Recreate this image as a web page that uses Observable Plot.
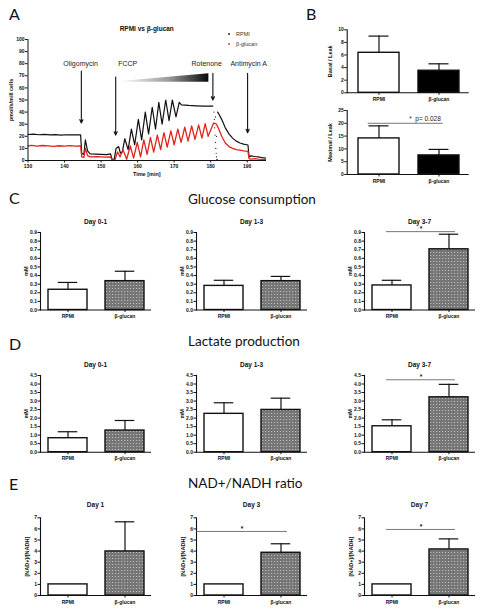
<!DOCTYPE html>
<html><head><meta charset="utf-8">
<script src="https://cdn.jsdelivr.net/npm/d3@7"></script>
<script src="https://cdn.jsdelivr.net/npm/@observablehq/plot@0.6"></script>
<style>
body{margin:0;background:#fff;}
#root{position:relative;width:489px;height:615px;overflow:hidden;background:#fff;}
#root svg{position:absolute;}
</style></head><body>
<div id="root">
<svg width="0" height="0" style="left:0;top:0">
 <defs>
  <pattern id="dotPat" width="3" height="3" patternUnits="userSpaceOnUse">
   <rect width="3" height="3" fill="#767676"/>
   <rect x="1" y="1" width="1.2" height="1" fill="#b8b8b8"/>
  </pattern>
  <linearGradient id="wedgeGrad" x1="0" x2="1" y1="0" y2="0">
   <stop offset="0" stop-color="#ffffff"/>
   <stop offset="0.55" stop-color="#9a9a9a"/>
   <stop offset="1" stop-color="#0a0a0a"/>
  </linearGradient>
 </defs>
</svg>
</div>
<script>
// ---------------- data ----------------
const groups = ["RPMI", "β-glucan"];

// Panel A: Seahorse trace (time [min], pmol/s/mill cells)
const rpmiT = [130,131.5,133,134.5,136,137.5,139,140.5,142,143.5,144.4,144.7,145.3,145.7,146.3,147,148.5,150,151.5,152.6,153,153.6,154.1,154.8,155.3,155.8,156.5,157.4,158.3,159.2,160.2,161.1,162.1,163,164,164.9,165.8,166.7,167.7,168.6,169.5,170.5,171.4,172,174,176,178,180.6,181.2,181.9,182.3,183,184,185,186,187,188,189,190.2,190.5,191,192,193,194,195];
const rpmiV = [21.5,21.8,21.3,21.6,21.2,21.4,21.0,21.3,21.1,21.2,21.2,6,5,17,8,5.5,5.2,5,4.8,5.5,1,1,10,11.5,6,7,18,9,26,13,34,17,40,22,44,26,48,30,50,33,50,36,48,46,45.5,45.2,45,45,NaN,40,38,34,27,22,18.5,16,14.5,13.5,12.8,3,3.8,3.3,3,2.5,2];
const rpmiScatterT = [180.9,181.0,181.1,181.2,181.3,181.4,181.5,181.6,181.7,181.8,181.3,181.6];
const rpmiScatterV = [40,34,27,21,15,10,6,3,1,0.5,36,20];
const bgT = [130,131,132.5,134,135.5,137,138.5,140,141.5,143,144.4,144.7,145.3,145.7,146.3,147,149,151,152.6,153,153.8,154.5,155.2,156,157,158,158.9,159.9,160.8,161.7,162.6,163.5,164.4,165.4,166.3,167.2,168.1,169.1,170,171,171.9,172.9,173.8,174.8,175.7,176.7,177.6,178.5,179.3,180.8,181.6,182.2,183,184,185,186,187,188,189,190.2,190.5,191,192,193,194,195];
const bgV = [12,12.5,11.8,12.4,12.1,11.6,12.2,11.9,12.3,11.8,12,3,2.5,10,4,3,3.2,2.8,3,0.5,0.5,7,3,9,1,12,2,15,3,17,5,19,7,21,9,23,11,24.5,13,26,15,27.5,16,28.5,17.5,29.5,18.5,30.5,20,31,30,26,20,14.5,11.5,10,9,8.5,8,7.5,1.5,1.2,1.5,1.2,1,0.8];
const eventNames = ["Oligomycin", "FCCP", "Rotenone", "Antimycin A"];
const eventT = [144.6, 154, 180.6, 190.1];
const eventTop = [74, 69, 72, 72];
const eventTip = [31, 21, 50, 23];
const eventLabelT = [144.4, 157.3, 178.9, 190.4];
const eventLabelY = [80, 80, 80, 80];
const wedgeT = [155.3, 179.5];
const wedgeLo = [64.7, 64.7];
const wedgeHi = [65.2, 71.6];
const traceXTicks = [130,140,150,160,170,180,190];
const traceYTicks = [0,10,20,30,40,50,60,70,80,90,100];

// Panel B
const basalLeak = [6.35, 3.5];
const basalLeakErr = [9.0, 4.6];
const basalTicks = [0,2,4,6,8,10];
const maxLeak = [14.1, 7.45];
const maxLeakErr = [19.0, 9.8];
const maxLeakSig = 20.0;
const maxTicks = [0,5,10,15,20,25];

// Panel C: glucose consumption (mM)
const glucoseDays = ["Day 0-1", "Day 1-3", "Day 3-7"];
const glucoseRPMI = [0.235, 0.28, 0.285];
const glucoseRPMIErr = [0.32, 0.345, 0.345];
const glucoseBG = [0.335, 0.335, 0.705];
const glucoseBGErr = [0.45, 0.39, 0.88];
const glucoseSig = [null, null, 0.91];
const glucoseTicks = [0,0.1,0.2,0.3,0.4,0.5,0.6,0.7,0.8,0.9];

// Panel D: lactate production (mM)
const lactateDays = ["Day 0-1", "Day 1-3", "Day 3-7"];
const lactateRPMI = [0.82, 2.25, 1.52];
const lactateRPMIErr = [1.2, 2.9, 1.9];
const lactateBG = [1.27, 2.48, 3.22];
const lactateBGErr = [1.86, 3.17, 3.98];
const lactateSig = [null, null, 4.25];
const lactateTicks = [0,0.5,1,1.5,2,2.5,3,3.5,4,4.5];

// Panel E: NAD+/NADH ratio
const nadDays = ["Day 1", "Day 3", "Day 7"];
const nadRPMI = [1, 1, 1];
const nadRPMIErr = [null, null, null];
const nadBG = [3.97, 3.85, 4.15];
const nadBGErr = [6.64, 4.66, 5.1];
const nadSig = [null, 5.77, 5.95];
const nadTicks = [0,1,2,3,4,5,6,7];

// ---------------- drawing ----------------
const root = document.getElementById("root");
const baseStyle = {fontFamily: "'Liberation Sans', Arial, sans-serif", fontSize: "5px", fontWeight: "bold", background: "transparent", color: "#111", overflow: "visible"};

function place(svg, left, top) {
  svg.style.left = left + "px";
  svg.style.top = top + "px";
  root.appendChild(svg);
}

// Panel A
{
  const rpmi = rpmiT.map((t, i) => ({t, v: rpmiV[i]}));
  const scatter = rpmiScatterT.map((t, i) => ({t, v: rpmiScatterV[i]}));
  const bg = bgT.map((t, i) => ({t, v: bgV[i]}));
  const events = eventNames.map((name, i) => ({name, t: eventT[i], top: eventTop[i], tip: eventTip[i], lt: eventLabelT[i], ly: eventLabelY[i]}));
  const wedge = wedgeT.map((t, i) => ({t, lo: wedgeLo[i], hi: wedgeHi[i]}));
  const svg = Plot.plot({
    width: 272, height: 183,
    marginLeft: 27.5, marginRight: 7, marginTop: 39, marginBottom: 23,
    style: baseStyle,
    x: {domain: [130, 195]},
    y: {domain: [0, 100]},
    marks: [
      Plot.areaY(wedge, {x: "t", y1: "lo", y2: "hi", fill: "url(#wedgeGrad)"}),
      Plot.line(rpmi, {x: "t", y: "v", stroke: "#111", strokeWidth: 1.2}),
      Plot.dot(scatter, {x: "t", y: "v", r: 0.6, fill: "#111", stroke: null}),
      Plot.line(bg, {x: "t", y: "v", stroke: "#e2231a", strokeWidth: 1.3}),
      Plot.arrow(events, {x1: "t", x2: "t", y1: "top", y2: "tip", stroke: "#111", strokeWidth: 1.1, headLength: 5, headAngle: 50}),
      Plot.text(events, {x: "lt", y: "ly", text: "name", fontSize: 7, fontWeight: "normal", fill: "#222", fontFamily: "'Liberation Sans', Arial, sans-serif"}),
      Plot.frame({anchor: "left", strokeWidth: 1}),
      Plot.frame({anchor: "bottom", strokeWidth: 1}),
      Plot.axisY({ticks: traceYTicks, tickSize: 2.5, tickPadding: 1, label: null}),
      Plot.axisX({ticks: traceXTicks, tickSize: 2.5, tickPadding: 1.5, label: null}),
      Plot.text(["RPMI vs β-glucan"], {frameAnchor: "top", dy: -11, fontSize: 6.5, lineAnchor: "middle"}),
      Plot.text(["Time [min]"], {frameAnchor: "bottom", dy: 14, fontSize: 5.5, lineAnchor: "middle"}),
      Plot.text(["pmol/s/mill cells"], {frameAnchor: "left", dx: -17, rotate: -90, textAnchor: "middle", fontSize: 5.5, lineAnchor: "middle"})
    ]
  });
  place(svg, 0, 0);
}

function barChart(c) {
  const ml = c.ml, W = c.W, mr = 10, mt = c.mt, H = c.H, mb = 12;
  const pi = c.pi, po = c.po;
  const step = W / (2 - pi + 2 * po);
  const bw = step * (1 - pi);
  const rows = groups.map((g, i) => ({g, v: c.values[i], e: c.errs[i]}));
  const errRows = rows.filter(d => d.e != null && d.e > d.v);
  const marks = [
    Plot.ruleX(errRows, {x: "g", y1: "v", y2: "e", stroke: "#111", strokeWidth: 1.2}),
    Plot.tickY(errRows, {x: "g", y: "e", insetLeft: bw / 4, insetRight: bw / 4, stroke: "#111", strokeWidth: 1.2}),
    Plot.barY(rows.slice(0, 1), {x: "g", y: "v", fill: "white", stroke: "#111", strokeWidth: 1.4}),
    Plot.barY(rows.slice(1), {x: "g", y: "v", fill: c.fill2, stroke: "#111", strokeWidth: 1.4}),
    Plot.frame({anchor: "left", strokeWidth: 1.1}),
    Plot.frame({anchor: "bottom", strokeWidth: 1.1}),
    Plot.axisY({ticks: c.yticks, tickFormat: c.fmt, tickSize: 2.5, tickPadding: 1, label: null}),
    Plot.axisX({tickSize: 2.5, tickPadding: 2, label: null}),
    Plot.text([c.ylabel], {frameAnchor: "left", dx: -c.ylDx, rotate: -90, textAnchor: "middle", lineAnchor: "middle", fontSize: 5.5})
  ];
  if (c.title) marks.push(Plot.text([c.title], {frameAnchor: "top", dy: c.titleDy, fontSize: 6.5, lineAnchor: "middle"}));
  if (c.sig != null) {
    marks.push(Plot.ruleY([c.sig], {insetLeft: c.sigL, insetRight: c.sigR, stroke: "#555", strokeWidth: 0.8}));
    if (c.sigTextStart != null) {
      marks.push(Plot.text([c.sig], {y: d => d, text: () => c.sigText, frameAnchor: "left", dx: c.sigTextStart, dy: -4.5, textAnchor: "start", lineAnchor: "middle", fontSize: 6.5, fontWeight: "normal", fill: "#222"}));
    } else {
      marks.push(Plot.text([c.sig], {y: d => d, text: () => "*", dx: (c.sigL - c.sigR) / 2, dy: -2.5, lineAnchor: "middle", fontSize: 6.5}));
    }
  }
  return Plot.plot({
    width: ml + W + mr, height: mt + H + mb,
    marginLeft: ml, marginRight: mr, marginTop: mt, marginBottom: mb,
    style: baseStyle,
    x: {domain: groups, paddingInner: pi, paddingOuter: po, align: c.align},
    y: {domain: [0, c.ymax]},
    marks
  });
}

// Panel B
place(barChart({ml: 46.7, W: 121, mt: 29.3, H: 63, pi: 0.311, po: 0.1475, align: 0.59,
  values: basalLeak, errs: basalLeakErr, ymax: 10, yticks: basalTicks, fmt: d3.format("d"),
  ylabel: "Basal / Leak", ylDx: 17, fill2: "#000"}), 300, 0);
place(barChart({ml: 46.7, W: 121, mt: 10, H: 64, pi: 0.311, po: 0.1475, align: 0.59,
  values: maxLeak, errs: maxLeakErr, ymax: 25, yticks: maxTicks, fmt: d3.format("d"),
  ylabel: "Maximal / Leak", ylDx: 17, fill2: "#000",
  sig: maxLeakSig, sigL: 21, sigR: 25, sigText: "*  p= 0.028", sigTextStart: 62}), 300, 100);

// Panels C, D, E
const colLeft = [0, 156, 324];
const rowsCfg = [
  {top: 212, mt: 20, H: 77.5, days: glucoseDays, a: glucoseRPMI, ae: glucoseRPMIErr, b: glucoseBG, be: glucoseBGErr, sig: glucoseSig, ymax: 0.9, ticks: glucoseTicks, fmt: d3.format(".1f"), ylabel: "mM", ylDx: 14, titleDy: -11, sigL: [22, 22, 22]},
  {top: 355, mt: 20, H: 76.7, days: lactateDays, a: lactateRPMI, ae: lactateRPMIErr, b: lactateBG, be: lactateBGErr, sig: lactateSig, ymax: 4.5, ticks: lactateTicks, fmt: d3.format(".1f"), ylabel: "mM", ylDx: 14, titleDy: -11, sigL: [22, 22, 22]},
  {top: 497, mt: 20.3, H: 77.7, days: nadDays, a: nadRPMI, ae: nadRPMIErr, b: nadBG, be: nadBGErr, sig: nadSig, ymax: 7, ticks: nadTicks, fmt: d3.format("d"), ylabel: "[NAD+]/[NADH]", ylDx: 13, titleDy: -13, sigL: [22, 0, 22]}
];
rowsCfg.forEach(r => {
  r.days.forEach((day, j) => {
    place(barChart({ml: 40, W: 110, mt: r.mt, H: r.H, pi: 0.316, po: 0.1228, align: 0.57,
      values: [r.a[j], r.b[j]], errs: [r.ae[j], r.be[j]], ymax: r.ymax, yticks: r.ticks, fmt: r.fmt,
      ylabel: r.ylabel, ylDx: r.ylDx, fill2: "url(#dotPat)", title: day, titleDy: r.titleDy,
      sig: r.sig[j], sigL: r.sigL[j], sigR: 19}), colLeft[j], r.top);
  });
});

// overlay: panel letters, section titles, legend of panel A
const ns = "http://www.w3.org/2000/svg";
const ov = document.createElementNS(ns, "svg");
ov.setAttribute("width", 489); ov.setAttribute("height", 615);
ov.style.left = "0px"; ov.style.top = "0px"; ov.style.zIndex = 5;
ov.innerHTML = `
<g font-family="Lato, 'Open Sans', sans-serif" fill="#111">
  <text x="9" y="20" font-size="16">A</text>
  <text x="306" y="20" font-size="16">B</text>
  <text x="9" y="204" font-size="16">C</text>
  <text x="9" y="350" font-size="16">D</text>
  <text x="9" y="490" font-size="16">E</text>
  <text x="188" y="204" font-size="13.5">Glucose consumption</text>
  <text x="188" y="346" font-size="13.5">Lactate production</text>
  <text x="188" y="488" font-size="13.5">NAD+/NADH ratio</text>
</g>
<g font-family="'Liberation Sans', Arial, sans-serif" font-size="5.5" fill="#333">
  <circle cx="229" cy="34" r="0.9" fill="#111"/>
  <text x="236" y="36">RPMI</text>
  <circle cx="229" cy="44" r="0.9" fill="#e2231a"/>
  <text x="236" y="46">β-glucan</text>
</g>`;
root.appendChild(ov);
</script>
</body></html>
